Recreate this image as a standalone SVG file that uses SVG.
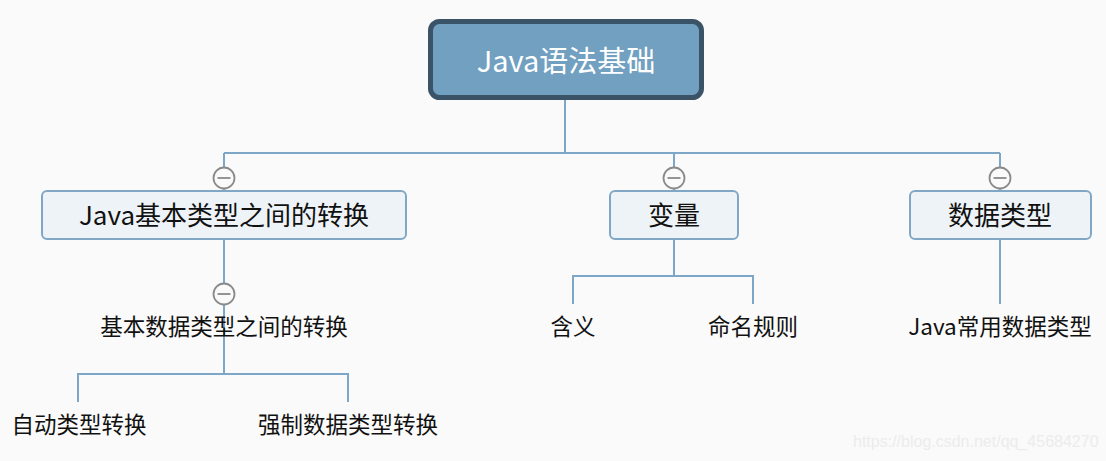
<svg xmlns="http://www.w3.org/2000/svg" width="1106" height="461" viewBox="0 0 1106 461">
<style>
.bg{fill:#fafafa}
.ln{fill:none;stroke:#7ea6c6;stroke-width:2}
.box{fill:#eef3f7;stroke:#80a8c6;stroke-width:2}
.cc{fill:#fafafa;stroke:#8a8a8a;stroke-width:1.8}
.t1{font-family:"Noto Sans CJK SC","Noto Sans",sans-serif;font-size:26px;fill:#111;text-anchor:middle}
.t2{font-family:"Noto Sans CJK SC","Noto Sans",sans-serif;font-size:22.5px;fill:#111;text-anchor:middle}
.root{font-family:"Noto Sans CJK SC","Noto Sans",sans-serif;font-size:29px;fill:#fff;text-anchor:middle}
.wm{font-family:"Liberation Sans",Arial,sans-serif;font-size:16px;fill:#ececec}
</style>
<defs>
<g id="minus"><circle class="cc" r="10.5"/><line x1="-6.5" y1="0" x2="6.5" y2="0" stroke="#8a8a8a" stroke-width="1.8"/></g>
</defs>
<rect class="bg" x="0" y="0" width="1106" height="461"/>
<g id="connectors">
<path class="ln" d="M565 99V153M224 153H1000M224 153V239M674 153V239M1000 153V239"/>
<path class="ln" d="M224 239V345M224 345V374M78 402V374H348V402"/>
<path class="ln" d="M674 239V276M573 304V276H753V304"/>
<path class="ln" d="M1000 239V304"/>
</g>
<g id="root">
<rect x="430.5" y="21.5" width="271" height="76" rx="9" fill="#72a0c1" stroke="#3b5366" stroke-width="5"/>
<text class="root" x="566" y="72">Java语法基础</text>
</g>
<g id="n1">
<use href="#minus" x="224" y="178"/>
<rect class="box" x="42" y="191" width="364" height="48" rx="5"/>
<text class="t1" x="224" y="225">Java基本类型之间的转换</text>
</g>
<g id="n2">
<use href="#minus" x="674" y="178"/>
<rect class="box" x="610" y="191" width="128" height="48" rx="5"/>
<text class="t1" x="674" y="225">变量</text>
</g>
<g id="n3">
<use href="#minus" x="1000" y="178"/>
<rect class="box" x="910" y="191" width="181" height="48" rx="5"/>
<text class="t1" x="1000" y="225">数据类型</text>
</g>
<g id="n11">
<use href="#minus" x="224" y="294"/>
<text class="t2" x="224" y="335">基本数据类型之间的转换</text>
</g>
<g id="n111"><text class="t2" x="79" y="433">自动类型转换</text></g>
<g id="n112"><text class="t2" x="348" y="433">强制数据类型转换</text></g>
<g id="n21"><text class="t2" x="573" y="335">含义</text></g>
<g id="n22"><text class="t2" x="753" y="335">命名规则</text></g>
<g id="n31"><text class="t2" x="1000" y="335">Java常用数据类型</text></g>
<text class="wm" x="853" y="447">https://blog.csdn.net/qq_45684270</text>
</svg>
